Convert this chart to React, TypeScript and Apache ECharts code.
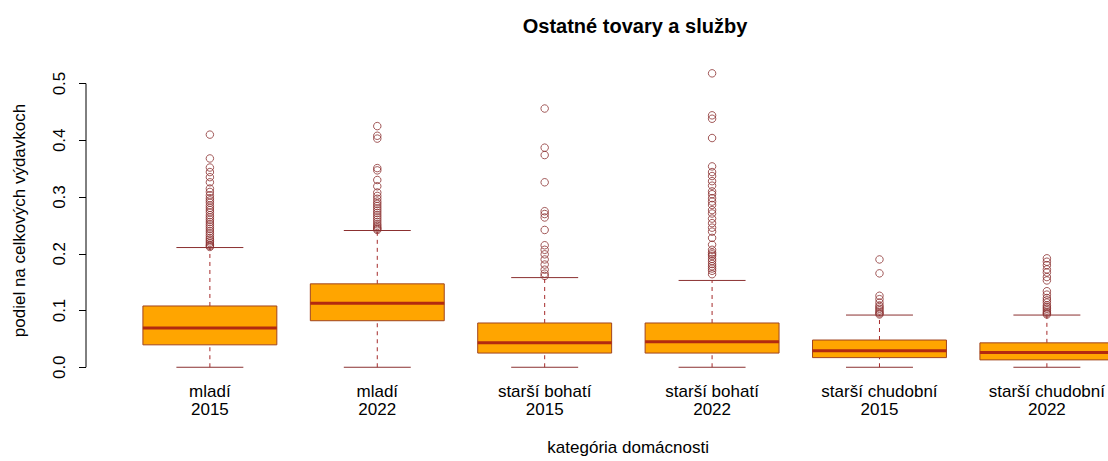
import React, { useEffect, useRef } from "react";
import * as echarts from "echarts";

const groups = ["mladí", "mladí", "starší bohatí", "starší bohatí", "starší chudobní", "starší chudobní"];
const years = ["2015", "2022", "2015", "2022", "2015", "2022"];
const positions = [1, 2, 3, 4, 5, 6];

const whiskerLow = [0, 0, 0, 0, 0, 0];
const q1 = [0.0395, 0.082, 0.025, 0.025, 0.017, 0.013];
const median = [0.069, 0.113, 0.043, 0.045, 0.029, 0.026];
const q3 = [0.108, 0.147, 0.078, 0.078, 0.048, 0.043];
const whiskerHigh = [0.211, 0.241, 0.158, 0.153, 0.092, 0.092];

const outliersMladi2015 = [0.410, 0.368, 0.352, 0.344, 0.335, 0.326, 0.315, 0.309, 0.303, 0.298, 0.294, 0.290, 0.285, 0.281, 0.277, 0.273, 0.268, 0.264, 0.260, 0.256, 0.252, 0.248, 0.244, 0.240, 0.236, 0.232, 0.228, 0.225, 0.222, 0.219, 0.216, 0.214, 0.212];
const outliersMladi2022 = [0.425, 0.408, 0.403, 0.351, 0.347, 0.330, 0.319, 0.308, 0.302, 0.297, 0.292, 0.288, 0.284, 0.280, 0.276, 0.272, 0.268, 0.264, 0.260, 0.256, 0.252, 0.249, 0.246, 0.244, 0.242];
const outliersBohati2015 = [0.456, 0.387, 0.374, 0.326, 0.275, 0.270, 0.264, 0.242, 0.215, 0.207, 0.199, 0.190, 0.181, 0.172, 0.165, 0.161];
const outliersBohati2022 = [0.518, 0.444, 0.438, 0.404, 0.354, 0.344, 0.337, 0.328, 0.320, 0.310, 0.305, 0.298, 0.292, 0.286, 0.277, 0.271, 0.262, 0.254, 0.246, 0.239, 0.228, 0.216, 0.207, 0.202, 0.199, 0.196, 0.191, 0.187, 0.182, 0.178, 0.174, 0.170, 0.164];
const outliersChudobni2015 = [0.190, 0.1655, 0.126, 0.120, 0.114, 0.109, 0.106, 0.103, 0.100, 0.097, 0.095, 0.093];
const outliersChudobni2022 = [0.192, 0.186, 0.180, 0.1725, 0.167, 0.159, 0.153, 0.134, 0.128, 0.122, 0.118, 0.114, 0.109, 0.106, 0.103, 0.100, 0.097, 0.095, 0.093];
const outliers = [outliersMladi2015, outliersMladi2022, outliersBohati2015, outliersBohati2022, outliersChudobni2015, outliersChudobni2022];

const yTicks = [0, 0.1, 0.2, 0.3, 0.4, 0.5];

const BROWN = "#A52A2A";
const DARK_BROWN = "#8B3030";
const BOX_BORDER = "#A0451F";
const ORANGE = "#FFA500";
const FONT = "'Liberation Sans', Arial, sans-serif";

export default function App() {
  const ref = useRef<HTMLDivElement>(null);
  useEffect(() => {
    document.body.style.margin = "0";
    const chart = echarts.init(ref.current!, null, { renderer: "svg" });
    const boxData = positions.map((p, i) => [p, whiskerLow[i], q1[i], median[i], q3[i], whiskerHigh[i]]);
    const outlierData: number[][] = [];
    outliers.forEach((arr, i) => arr.forEach((v) => outlierData.push([positions[i], v])));
    const xMin = 0.26;
    const xMax = 6.343;
    chart.setOption({
      animation: false,
      textStyle: { fontFamily: FONT },
      title: {
        text: "Ostatné tovary a služby",
        left: 630,
        textAlign: "center",
        top: 11,
        textStyle: { fontFamily: FONT, fontSize: 20, fontWeight: "bold", color: "#000" },
      },
      grid: { left: 86, top: 62, right: 0, height: 321, containLabel: false },
      xAxis: {
        type: "value",
        min: xMin,
        max: xMax,
        axisLine: { show: false },
        axisTick: { show: false },
        splitLine: { show: false },
        axisLabel: {
          customValues: positions,
          formatter: (v: number) => {
            const i = positions.indexOf(Math.round(v));
            return i >= 0 ? groups[i] + "\n" + years[i] : "";
          },
          fontSize: 17,
          lineHeight: 18,
          margin: 3,
          color: "#000",
          fontFamily: FONT,
        },
        name: "kategória domácnosti",
        nameLocation: "middle",
        nameGap: 60,
        nameTextStyle: { fontSize: 17, color: "#000", fontFamily: FONT, padding: [0, 0, 0, 66] },
      },
      yAxis: {
        type: "value",
        min: -0.0207,
        max: 0.538,
        axisLine: { show: false },
        splitLine: { show: false },
        axisTick: { show: true, customValues: yTicks, length: 7, lineStyle: { color: "#000" } },
        axisLabel: {
          customValues: yTicks,
          formatter: (v: number) => v.toFixed(1),
          rotate: 90,
          fontSize: 17,
          margin: 18,
          color: "#000",
          fontFamily: FONT,
        },
        name: "podiel na celkových výdavkoch",
        nameLocation: "middle",
        nameGap: 58,
        nameTextStyle: { fontSize: 17, color: "#000", fontFamily: FONT },
      },
      series: [
        {
          type: "line",
          data: [[xMin, yTicks[0]], [xMin, yTicks[yTicks.length - 1]]],
          symbol: "none",
          clip: false,
          lineStyle: { color: "#000", width: 1 },
          silent: true,
        },
        {
          type: "custom",
          data: boxData,
          clip: false,
          renderItem: (params: any, api: any) => {
            const x = api.value(0);
            const lo = api.coord([x, api.value(1)]);
            const b1 = api.coord([x, api.value(2)]);
            const md = api.coord([x, api.value(3)]);
            const b3 = api.coord([x, api.value(4)]);
            const hi = api.coord([x, api.value(5)]);
            const half = api.size([0.8, 0])[0] / 2;
            const sHalf = api.size([0.4, 0])[0] / 2;
            const cx = lo[0];
            const dash = { stroke: BROWN, lineWidth: 1, lineDash: [4, 4] };
            const solid = { stroke: DARK_BROWN, lineWidth: 1 };
            return {
              type: "group",
              children: [
                { type: "line", shape: { x1: cx, y1: b3[1], x2: cx, y2: hi[1] }, style: dash },
                { type: "line", shape: { x1: cx, y1: lo[1], x2: cx, y2: b1[1] }, style: dash },
                { type: "line", shape: { x1: cx - sHalf, y1: hi[1], x2: cx + sHalf, y2: hi[1] }, style: solid },
                { type: "line", shape: { x1: cx - sHalf, y1: lo[1], x2: cx + sHalf, y2: lo[1] }, style: solid },
                {
                  type: "rect",
                  shape: { x: cx - half, y: b3[1], width: half * 2, height: b1[1] - b3[1] },
                  style: { fill: ORANGE, stroke: BOX_BORDER, lineWidth: 1 },
                },
                { type: "line", shape: { x1: cx - half, y1: md[1], x2: cx + half, y2: md[1] }, style: { stroke: "#B22A10", lineWidth: 3 } },
              ],
            };
          },
        },
        {
          type: "scatter",
          data: outlierData,
          symbol: "circle",
          symbolSize: 7.5,
          clip: false,
          itemStyle: { color: "rgba(0,0,0,0)", borderColor: DARK_BROWN, borderWidth: 1 },
        },
      ],
    });
    return () => chart.dispose();
  }, []);
  return <div ref={ref} style={{ width: 1108, height: 461 }} />;
}
